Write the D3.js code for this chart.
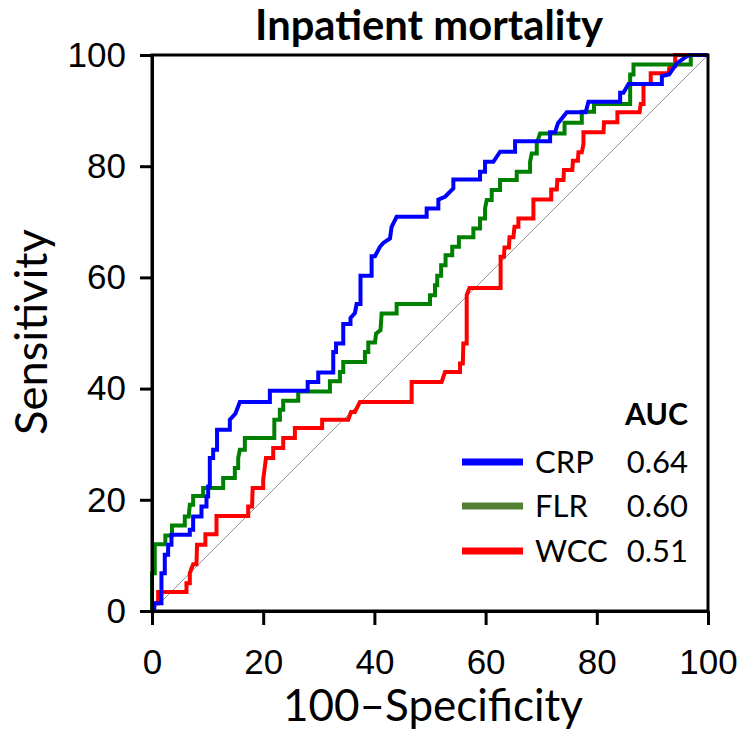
<!DOCTYPE html>
<html>
<head>
<meta charset="utf-8">
<script src="https://cdn.jsdelivr.net/npm/d3@7"></script>
<style>
  body { margin: 0; background: #fff; }
  svg { display: block; }
</style>
</head>
<body>
<div id="chart"></div>
<script>
// ROC curves, [100-specificity, sensitivity]
const crp = [[0,0],[0.4,0],[0.4,1.4],[1.7,1.4],[1.7,6.8],[2.3,6.8],[2.3,10.1],[2.9,10.1],[2.9,11.9],[3.5,11.9],[3.5,13.7],[6.8,13.7],[6.8,14.6],[7.4,14.6],[7.4,17],[8.9,17],[8.9,18.8],[9.8,18.8],[9.8,20.6],[10.1,20.6],[10.1,22.4],[10.4,22.4],[10.4,27.5],[11.0,27.5],[11.0,29],[11.7,29],[11.7,32.6],[14,32.6],[14,34.4],[15,35.5],[15.8,37.6],[21.2,37.6],[21.2,39.6],[28,39.6],[28,41.2],[29.9,41.2],[29.9,42.9],[32.6,42.9],[32.6,46.6],[33.1,46.6],[33.1,48.1],[34.4,48.1],[34.4,51.6],[35.7,51.6],[35.7,52.7],[36.5,53.6],[36.8,55.2],[37.5,55.2],[37.5,60.3],[39.5,60.3],[39.5,63.8],[40.1,63.8],[41,65.5],[41.6,66.2],[42.8,67],[43.1,69.1],[44,70.9],[49.4,70.9],[49.4,72.4],[51.5,72.4],[51.5,74],[52.7,74.5],[54.2,76],[54.2,77.6],[59,77.6],[59,79],[59.9,79],[59.9,80.8],[61.4,80.8],[62.6,82.6],[65.3,82.6],[65.3,84.5],[71.6,84.5],[71.6,86.1],[72.5,86.1],[73,87.7],[74.6,89.7],[78,89.7],[78.5,91.6],[84.2,91.6],[84.2,93.2],[84.8,93.2],[85.7,94.8],[91.7,94.8],[91.7,96.2],[93,96.5],[94.4,98.5],[96.2,99.8],[97,100],[100,100]];

const flr = [[0,0],[0,6.8],[0.5,6.8],[0.5,12],[2.4,12],[2.4,13.6],[3.6,13.6],[3.6,15.4],[5.9,15.4],[5.9,17],[6.6,17],[6.8,19.1],[7.4,19.1],[7.4,20.7],[9.2,20.7],[9.2,22.1],[12.8,22.1],[12.8,23.9],[14.9,23.9],[14.9,25.7],[15.5,25.7],[15.5,27.5],[15.8,29],[16.7,29],[16.7,31.1],[22,31.1],[22,34.4],[23,34.4],[23,36.2],[23.6,36.2],[23.6,37.8],[26.3,37.8],[26.3,39.5],[32,39.5],[32,41.3],[33.8,41.3],[33.8,43],[34.4,43],[34.4,44.8],[38.3,44.8],[38.3,46.6],[38.9,46.6],[38.9,48.3],[40.1,48.3],[40.3,49.9],[41.1,50.5],[41.3,53.5],[44,53.5],[44,55.2],[50,55.2],[50,56.8],[50.9,56.8],[50.9,58.6],[51.3,58.6],[51.3,60.3],[52,60.3],[52,62.2],[52.8,62.2],[52.8,64],[54,64],[54,65.5],[55.2,65.5],[55.2,67.2],[57.8,67.2],[57.8,68.8],[59,68.8],[59,70.6],[59.9,70.6],[59.9,72.4],[60.2,73.9],[61.1,73.9],[61.1,75.7],[62.6,75.7],[62.6,77.5],[65.6,77.5],[65.6,79],[68,79],[68,80.8],[68.3,82.3],[69.2,82.3],[69.2,84.1],[69.8,85.9],[74.2,85.9],[74.2,87.8],[77.3,87.8],[77.3,89.8],[79.5,89.8],[79.5,91.2],[86,91.2],[86,96.5],[86.6,96.5],[86.6,98.3],[96.9,98.3],[96.9,100],[100,100]];

const wcc = [[0,0],[0,1.4],[1.1,1.4],[1.1,3.4],[6.2,3.4],[6.2,5],[6.8,5],[6.8,6.8],[7.4,8.4],[8,8.4],[8.1,11.9],[9.6,11.9],[9.6,13.8],[11.6,13.8],[11.6,17.1],[17.3,17.1],[17.3,18.8],[18,18.8],[18.1,22.1],[20,22.1],[20,23.6],[20.5,27.5],[21.8,27.5],[21.8,29.3],[23.6,29.3],[23.6,31.1],[25.7,31.1],[25.7,32.9],[30.6,32.9],[30.6,34.4],[35.3,34.4],[35.8,35.8],[36.5,35.8],[37.4,37.6],[46.7,37.6],[46.7,41.2],[52.1,41.2],[52.7,43],[55.4,43],[55.4,44.5],[55.9,44.5],[56,48.1],[56.6,48.1],[56.6,56.8],[57.1,58.1],[62.7,58.1],[62.7,63.7],[63.3,63.7],[63.4,65.4],[64.2,65.4],[64.3,67.2],[65,67.2],[65.2,69.1],[65.9,69.1],[65.9,70.6],[68.6,70.6],[68.6,74],[71.8,74],[71.8,75.8],[72.8,75.8],[72.9,77.5],[74,77.5],[74.1,79.3],[75.6,79.3],[75.7,81],[76.6,81],[76.7,82.5],[77.3,82.5],[77.6,84],[77.6,86.1],[81.2,86.1],[81.3,87.9],[83.7,87.9],[83.7,89.7],[87.7,89.7],[87.9,91.2],[88.4,91.2],[88.4,94.8],[89.7,94.8],[89.7,96.7],[92.9,96.7],[93.1,98],[94.1,98],[94.1,100],[100,100]];

const seriesNames = ['CRP', 'FLR', 'WCC'];
const aucValues = ['0.64', '0.60', '0.51'];
const curveColors = ['#0000ff', '#008000', '#ff0000'];
const legendColors = ['#0000ff', '#548235', '#ff0000'];
const ticks = [0, 20, 40, 60, 80, 100];

const W = 743, H = 733;
const m = { left: 152, right: 708, top: 55, bottom: 611 };

const svg = d3.select('#chart').append('svg')
    .attr('width', W)
    .attr('height', H);

const x = d3.scaleLinear().domain([0, 100]).range([m.left, m.right]);
const y = d3.scaleLinear().domain([0, 100]).range([m.bottom, m.top]);

const sans = 'Lato, "Open Sans", sans-serif';

// scale a text's font-size so it spans the wanted width
function fit(sel, w) {
    const n = sel.node();
    const s = parseFloat(sel.attr('font-size'));
    sel.attr('font-size', s * w / n.getComputedTextLength());
    return sel;
}

// chance line
svg.append('line')
    .attr('x1', x(0)).attr('y1', y(0))
    .attr('x2', x(100)).attr('y2', y(100))
    .attr('stroke', '#999')
    .attr('stroke-width', 1);

const line = d3.line().x(d => x(d[0])).y(d => y(d[1]));

// draw red first, blue last on top
[wcc, flr, crp].forEach((data, k) => {
    const i = 2 - k;
    svg.append('path')
        .datum(data)
        .attr('d', line)
        .attr('fill', 'none')
        .attr('stroke', curveColors[i])
        .attr('stroke-width', 4)
        .attr('stroke-linejoin', 'miter');
});

// frame
svg.append('rect')
    .attr('x', m.left).attr('y', m.top)
    .attr('width', m.right - m.left).attr('height', m.bottom - m.top)
    .attr('fill', 'none')
    .attr('stroke', '#000')
    .attr('stroke-width', 3);

const xAxis = svg.append('g')
    .attr('transform', `translate(0,${m.bottom})`)
    .call(d3.axisBottom(x).tickValues(ticks).tickSize(14).tickPadding(24).tickSizeOuter(0));
const yAxis = svg.append('g')
    .attr('transform', `translate(${m.left},0)`)
    .call(d3.axisLeft(y).tickValues(ticks).tickSize(12).tickPadding(14).tickSizeOuter(0));

[xAxis, yAxis].forEach(g => {
    g.select('.domain').attr('stroke', '#000').attr('stroke-width', 3);
    g.selectAll('.tick line').attr('stroke', '#000').attr('stroke-width', 3);
    g.selectAll('.tick text')
        .attr('fill', '#000')
        .attr('font-family', '"Liberation Sans", Arial, sans-serif')
        .attr('font-size', 35);
});
xAxis.selectAll('.tick text').attr('dy', '0.71em');

// titles
fit(svg.append('text')
    .attr('x', 429).attr('y', 40)
    .attr('text-anchor', 'middle')
    .attr('font-family', sans)
    .attr('font-weight', 'bold')
    .attr('font-size', 31)
    .text('Inpatient mortality'), 348);

fit(svg.append('text')
    .attr('x', 433).attr('y', 721)
    .attr('text-anchor', 'middle')
    .attr('font-family', sans)
    .attr('font-size', 36)
    .text('100\u2013Specificity'), 300);

fit(svg.append('text')
    .attr('transform', 'translate(47,332) rotate(-90)')
    .attr('text-anchor', 'middle')
    .attr('font-family', sans)
    .attr('font-size', 36)
    .text('Sensitivity'), 206);

// legend
fit(svg.append('text')
    .attr('x', 688).attr('y', 425)
    .attr('text-anchor', 'end')
    .attr('font-family', sans)
    .attr('font-weight', 'bold')
    .attr('font-size', 28)
    .text('AUC'), 63);

const rowY = [462, 506, 551];
const legend = svg.append('g');
seriesNames.forEach((name, i) => {
    legend.append('line')
        .attr('x1', 462).attr('x2', 523)
        .attr('y1', rowY[i]).attr('y2', rowY[i])
        .attr('stroke', legendColors[i])
        .attr('stroke-width', 7);
    legend.append('text')
        .attr('x', 535).attr('y', rowY[i])
        .attr('dy', '0.36em')
        .attr('font-family', sans)
        .attr('font-size', 31)
        .text(name);
    legend.append('text')
        .attr('x', 688).attr('y', rowY[i])
        .attr('dy', '0.36em')
        .attr('text-anchor', 'end')
        .attr('font-family', sans)
        .attr('font-size', 31)
        .text(aucValues[i]);
});
</script>
</body>
</html>
